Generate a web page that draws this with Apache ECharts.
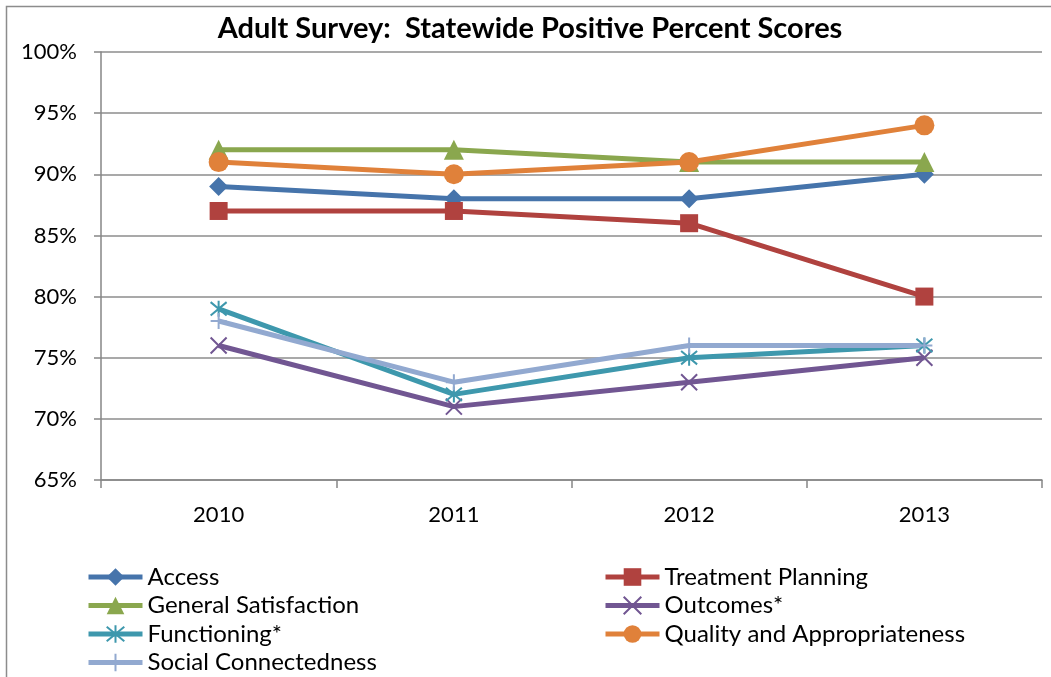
<!DOCTYPE html>
<html>
<head>
<meta charset="utf-8">
<script src="https://cdn.jsdelivr.net/npm/echarts@6/dist/echarts.min.js"></script>
<style>
  html, body { margin: 0; padding: 0; background: #fff; }
  #chart { width: 1051px; height: 677px; }
</style>
</head>
<body>
<div id="chart"></div>
<script>
// Survey years and statewide positive percent scores per domain
const years = ['2010', '2011', '2012', '2013'];
const access = [89, 88, 88, 90];
const treatmentPlanning = [87, 87, 86, 80];
const generalSatisfaction = [92, 92, 91, 91];
const outcomes = [76, 71, 73, 75];
const functioning = [79, 72, 75, 76];
const qualityAppropriateness = [91, 90, 91, 94];
const socialConnectedness = [78, 73, 76, 76];

const FONT = 'Lato, "Noto Sans", sans-serif';

// Stroke-only marker shapes
const X_PATH = 'path://M0,0L10,10M10,0L0,10';
const STAR_PATH = 'path://M0,0L10,10M10,0L0,10M5,-1L5,11';
const PLUS_PATH = 'path://M5,0L5,10M0,5L10,5';

function lineSeries(name, data, color, symbol, size, stroked) {
  return {
    name: name,
    type: 'line',
    data: data,
    symbol: symbol,
    symbolSize: size,
    showAllSymbol: true,
    lineStyle: { color: color, width: 5 },
    itemStyle: stroked
      ? { color: 'none', borderColor: color, borderWidth: 2 }
      : { color: color, borderWidth: 0 },
    emphasis: { disabled: true },
    z: 3
  };
}

const legendCommon = {
  orient: 'vertical',
  top: 565,
  padding: 0,
  itemWidth: 54,
  itemHeight: 22,
  itemGap: 4.5,
  lineStyle: { width: 5 },
  textStyle: { fontFamily: FONT, fontSize: 24, lineHeight: 24, color: '#000' }
};

const chart = echarts.init(document.getElementById('chart'), null, { renderer: 'canvas' });

chart.setOption({
  animation: false,
  backgroundColor: '#fff',
  title: {
    text: 'Adult Survey:  Statewide Positive Percent Scores',
    left: 530,
    textAlign: 'center',
    top: 14,
    padding: 0,
    textStyle: { fontFamily: FONT, fontSize: 29, fontWeight: 'bold', color: '#000' }
  },
  graphic: [{
    type: 'rect',
    shape: { x: 6.5, y: 6.5, width: 1100, height: 700 },
    style: { fill: 'none', stroke: '#8c8c8c', lineWidth: 1.5 },
    silent: true
  }],
  grid: { left: 101, right: 9, top: 52, bottom: 197 },
  xAxis: {
    type: 'category',
    data: years,
    boundaryGap: true,
    axisLine: { lineStyle: { color: '#868686', width: 1.5 } },
    axisTick: { show: true, length: 8, lineStyle: { color: '#868686', width: 1.5 } },
    axisLabel: { fontFamily: FONT, fontSize: 22, color: '#000', margin: 24 }
  },
  yAxis: {
    type: 'value',
    min: 65,
    max: 100,
    interval: 5,
    axisLine: { show: true, lineStyle: { color: '#868686', width: 1.5 } },
    axisTick: { show: true, length: 7, lineStyle: { color: '#868686', width: 1.5 } },
    splitLine: { lineStyle: { color: '#8c8c8c', width: 1.5 } },
    axisLabel: { fontFamily: FONT, fontSize: 22, color: '#000', margin: 24, formatter: '{value}%' }
  },
  legend: [
    Object.assign({}, legendCommon, {
      left: 86,
      data: ['Access', 'General Satisfaction', 'Functioning*', 'Social Connectedness']
    }),
    Object.assign({}, legendCommon, {
      left: 603,
      data: ['Treatment Planning', 'Outcomes*', 'Quality and Appropriateness']
    })
  ],
  series: [
    lineSeries('Access', access, '#4674ab', 'diamond', 19, false),
    lineSeries('Treatment Planning', treatmentPlanning, '#b0423f', 'rect', 18, false),
    lineSeries('General Satisfaction', generalSatisfaction, '#8aa74e', 'triangle', 20, false),
    lineSeries('Outcomes*', outcomes, '#715692', X_PATH, 16, true),
    lineSeries('Functioning*', functioning, '#3e98ad', STAR_PATH, 16, true),
    lineSeries('Quality and Appropriateness', qualityAppropriateness, '#e0813a', 'circle', 20, false),
    lineSeries('Social Connectedness', socialConnectedness, '#92a9d0', PLUS_PATH, 16, true)
  ]
});
</script>
</body>
</html>
